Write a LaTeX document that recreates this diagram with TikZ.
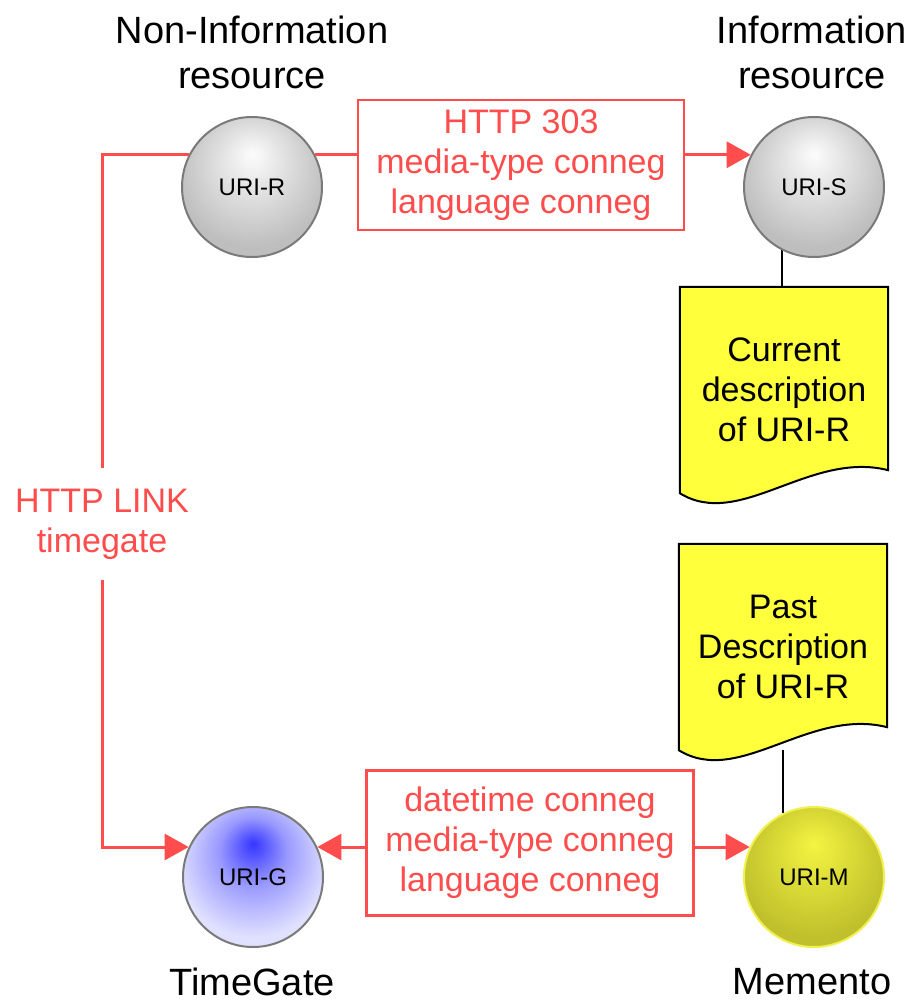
\documentclass[tikz,border=0pt]{standalone}
\usepackage{fontspec}
\setmainfont{Liberation Sans}
\usetikzlibrary{arrows.meta,calc,backgrounds}
\definecolor{lred}{HTML}{FF4C4C}
\definecolor{circline}{HTML}{7A7A7A}
\definecolor{yrim}{HTML}{F0F050}
\definecolor{docyellow}{HTML}{FFFF3C}
\definecolor{gcen}{HTML}{FCFCFC}
\definecolor{gedge}{HTML}{BEBEBE}
\definecolor{bcen}{HTML}{3535FF}
\definecolor{bmid}{HTML}{9898FF}
\definecolor{bedge}{HTML}{E0E0FF}
\definecolor{ycen}{HTML}{F4F442}
\definecolor{yedge}{HTML}{C0C02C}
\pgfdeclareradialshading{greyball}{\pgfpoint{0bp}{12bp}}{color(0bp)=(gcen); color(27bp)=(gedge); color(50bp)=(gedge)}
\pgfdeclareradialshading{blueball}{\pgfpoint{0bp}{12bp}}{color(0bp)=(bcen); color(12bp)=(bmid); color(27bp)=(bedge); color(50bp)=(bedge)}
\pgfdeclareradialshading{yellowball}{\pgfpoint{0bp}{12bp}}{color(0bp)=(ycen); color(27bp)=(yedge); color(50bp)=(yedge)}
\begin{document}
\begin{tikzpicture}[x=1pt,y=-1pt,
  uri/.style={circle, minimum size=140pt, inner sep=0pt, draw=circline, line width=2pt, font=\fontsize{24}{28}\selectfont},
  lbl/.style={align=center, font=\fontsize{38}{45}\selectfont},
  redbox/.style={draw=lred, line width=2.5pt, text=lred, align=center, font=\fontsize{34}{40}\selectfont, inner sep=0pt},
  redline/.style={draw=lred, line width=3pt},
  redarrow/.style={redline, -{Triangle[length=24pt,width=26pt]}},
  doctext/.style={align=center, font=\fontsize{34}{40}\selectfont, minimum width=208pt, minimum height=206pt, inner sep=0pt},
  docshape/.style={fill=docyellow, draw=black, line width=2pt},
  blackline/.style={draw=black, line width=2pt}
  ]
\useasboundingbox (0,0) rectangle (917,1004);

\node[uri, shade, shading=greyball] (R) at (252,187) {URI-R};
\node[uri, shade, shading=greyball] (S) at (814,187) {URI-S};
\node[uri, shade, shading=blueball] (G) at (253,877) {URI-G};
\node[uri, shade, shading=yellowball, draw=yrim] (M) at (814,877) {URI-M};

\node[lbl] (lR) at (252,52) {Non-Information\\resource};
\node[lbl] (lS) at (812,52) {Information\\resource};
\node[lbl] (lG) at (252,982) {TimeGate};
\node[lbl] (lM) at (812,982) {Memento};

\node[redbox, minimum width=326pt, minimum height=130pt] (b1) at (521,165) {HTTP 303\\media-type conneg\\language conneg};
\node[redbox, minimum width=327pt, minimum height=145pt] (b2) at (530,843) {datetime conneg\\media-type conneg\\language conneg};

\node[text=lred, align=center, font=\fontsize{34}{40}\selectfont, minimum height=112pt, inner sep=0pt] (lk) at (102,524) {HTTP LINK\\timegate};

\node[doctext] (cur) at (784,390) {Current\\description\\of URI-R};
\node[doctext] (past) at (783,647) {Past\\Description\\of URI-R};

\draw[redline] (R.27) -- (R.27 -| b1.west);
\draw[redarrow] (b1.east |- S.153) -- (S.153);
\draw[redline] (R.153) -| (lk.north);
\draw[redarrow] (lk.south) |- (G.155);
\draw[redarrow] (b2.west |- G.25) -- (G.25);
\draw[redarrow] (b2.east |- M.155) -- (M.155);

\begin{pgfonlayer}{background}
\fill[white] (0,0) rectangle (917,1004);
\draw[blackline] (S.243.7) -- (S.243.7 |- cur.north);
\draw[blackline] (past.south) -- (past.south |- M.116.3);
\path[docshape] (cur.north west) -- (cur.north east) -- ($(cur.south east)+(0,-23)$) .. controls ($(cur.south west)+(130,-43)$) and ($(cur.south west)+(60,37)$) .. (cur.south west) -- cycle;
\path[docshape] (past.north west) -- (past.north east) -- ($(past.south east)+(0,-23)$) .. controls ($(past.south west)+(130,-43)$) and ($(past.south west)+(60,37)$) .. (past.south west) -- cycle;
\end{pgfonlayer}
\end{tikzpicture}
\end{document}
